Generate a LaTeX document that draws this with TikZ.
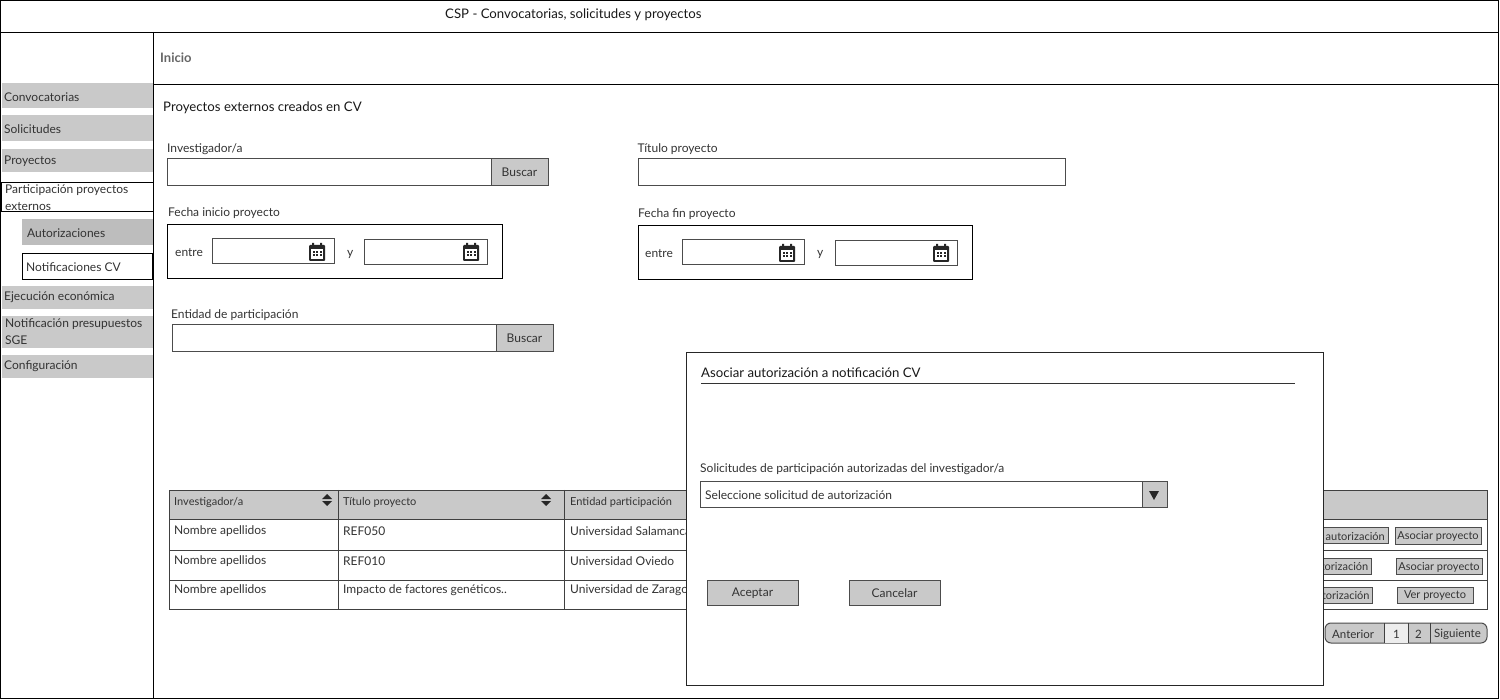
\documentclass[tikz,border=0pt]{standalone}
\usepackage{fontspec}
\setmainfont{Lato}
\tikzset{
  texto/.style={anchor=west,inner sep=0pt,yshift=-0.8pt,text=black!80,font=\fontsize{12}{17}\selectfont},
  titulo/.style={texto,text=black!90,font=\fontsize{13.2}{17}\selectfont},
  cabeza/.style={texto,font=\fontsize{11}{14}\selectfont},
  marco/.style={draw=black,line width=0.8pt},
  campo/.style={draw=black!70,fill=white,line width=1pt},
  boton/.style={draw=black!70,fill=black!21,line width=1pt,text=black!80,font=\fontsize{12}{14}\selectfont},
  botonfila/.style={boton,font=\fontsize{11}{14}\selectfont},
  menuitem/.style={fill=black!21},
  celda/.style={draw=black!75,line width=0.9pt},
  calendario/.pic={
    \fill[black!85,rounded corners=1pt] (-8,-7) rectangle (8,9);
    \fill[white] (-6,-3) rectangle (6,7);
    \fill[black!85] (-5,-9) rectangle (-3,-5) (3,-9) rectangle (5,-5);
    \foreach \i in {-3.5,0,3.5} {
      \foreach \j in {0,3.5} {
        \fill[black!85] (\i-1,\j-1) rectangle (\i+1,\j+1);
      }
    }
  },
  orden/.pic={
    \fill[black!85] (-5,-1) -- (0,-6) -- (5,-1) -- cycle;
    \fill[black!85] (-5,1) -- (0,6) -- (5,1) -- cycle;
  }
}

\begin{document}
\begin{tikzpicture}[x=1pt,y=-1pt]
  \useasboundingbox (0,0) rectangle (1500,700);
  \fill[white] (0,0) rectangle (1500,700);

  % marco general
  \draw[marco] (0.5,0.5) rectangle (1498,32);
  \draw[marco] (0.5,32) -- (0.5,698.5) -- (1498,698.5) -- (1498,32);
  \draw[marco] (153.5,32) -- (153.5,698.5);
  \draw[marco] (153.5,84) -- (1498,84);
  \node[titulo] (cabecera) at (445,14) {CSP - Convocatorias, solicitudes y proyectos};
  \node[texto,text=black!60,font=\bfseries\fontsize{13}{17}\selectfont] (inicio) at (160,57) {Inicio};

  % menu lateral
  \fill[menuitem] (2,83) rectangle (153,108);
  \fill[menuitem] (2,115) rectangle (153,141);
  \fill[menuitem] (2,149) rectangle (153,172);
  \draw[marco,fill=white] (1,182.5) rectangle (153,211);
  \fill[black!26] (22,219) rectangle (153,245);
  \draw[marco,fill=white] (22.5,253.5) rectangle (152.5,279);
  \fill[menuitem] (2,286) rectangle (153,309);
  \fill[menuitem] (2,316) rectangle (153,348);
  \fill[menuitem] (2,355) rectangle (153,378);
  \node[texto] (convocatorias) at (4,96) {Convocatorias};
  \node[texto] (solicitudes) at (4,128) {Solicitudes};
  \node[texto] (proyectos) at (4,160) {Proyectos};
  \node[texto,align=left] (participacion) at (5,196.5) {Participación proyectos\\externos};
  \node[texto] (autorizaciones) at (27,232) {Autorizaciones};
  \node[texto] (notificaciones) at (26,266) {Notificaciones CV};
  \node[texto] (ejecucion) at (4,296.5) {Ejecución económica};
  \node[texto,align=left] (presupuestos) at (5,330.5) {Notificación presupuestos\\SGE};
  \node[texto] (configuracion) at (4,365.5) {Configuración};

  % filtros
  \node[titulo] (filtros) at (163,107) {Proyectos externos creados en CV};
  \node[texto] (labelinv) at (167,148) {Investigador/a};
  \draw[campo] (167,159) rectangle (491,186);
  \draw[boton] (491,159) rectangle (548,186) node (buscarinv) [midway] {Buscar};
  \node[texto] (labeltit) at (637.5,148) {Título proyecto};
  \draw[campo] (638,159) rectangle (1065,186);

  \node[texto] (labelini) at (168,212) {Fecha inicio proyecto};
  \draw[marco] (167,224) rectangle (502,278);
  \node[texto] (entreini) at (175,252) {entre};
  \draw[campo] (212,239) rectangle (334,264);
  \node[texto] (yini) at (347,254) {y};
  \draw[campo] (364,240) rectangle (487,265);
  \pic at (317,252) {calendario};
  \pic at (471,252) {calendario};

  \node[texto] (labelfin) at (638,213) {Fecha fin proyecto};
  \draw[marco] (638,225) rectangle (972,279);
  \node[texto] (entrefin) at (645,253) {entre};
  \draw[campo] (682,240) rectangle (804,265);
  \node[texto] (yfin) at (817,254) {y};
  \draw[campo] (835,241) rectangle (957,266);
  \pic at (787,253) {calendario};
  \pic at (941,253) {calendario};

  \node[texto] (labelent) at (171,314) {Entidad de participación};
  \draw[campo] (172,325) rectangle (496,352);
  \draw[boton] (496,325) rectangle (553,352) node (buscarent) [midway] {Buscar};

  % tabla
  \draw[celda,fill=black!21] (169,490) rectangle (1487,519);
  \draw[celda] (169,519) rectangle (1487,609);
  \draw[celda] (169,550) -- (1487,550);
  \draw[celda] (169,580) -- (1487,580);
  \draw[celda] (338.5,490) -- (338.5,609);
  \draw[celda] (564,490) -- (564,609);
  \node[cabeza] (colinv) at (174,501.5) {Investigador/a};
  \node[cabeza] (coltit) at (343,501.5) {Título proyecto};
  \node[cabeza] (colent) at (570,501.5) {Entidad participación};
  \pic at (327,500) {orden};
  \pic at (546,500) {orden};
  \node[texto] (inva) at (174,530) {Nombre apellidos};
  \node[texto] (invb) at (174,560) {Nombre apellidos};
  \node[texto] (invc) at (174,589) {Nombre apellidos};
  \node[texto] (tita) at (343,530) {REF050};
  \node[texto] (titb) at (343,560) {REF010};
  \node[texto] (titc) at (343,589) {Impacto de factores genéticos..};
  \node[texto] (enta) at (570,530) {Universidad Salamanca};
  \node[texto] (entb) at (570,560) {Universidad Oviedo};
  \node[texto] (entc) at (570,589) {Universidad de Zaragoza};

  \draw[botonfila] (1300,527.5) rectangle (1388.5,543.5) node (autoa) [midway,xshift=11pt,yshift=-1pt] {autorización};
  \draw[botonfila] (1290,558) rectangle (1371.5,574) node (autob) [midway,xshift=8pt,yshift=-1pt] {autorización};
  \draw[botonfila] (1290,587) rectangle (1372,603) node (autoc) [midway,xshift=9pt,yshift=-1pt] {autorización};
  \draw[botonfila] (1395,527.5) rectangle (1481,544) node (asociara) [midway,yshift=-1pt] {Asociar proyecto};
  \draw[botonfila] (1396,558) rectangle (1482,574) node (asociarb) [midway,yshift=-1pt] {Asociar proyecto};
  \draw[botonfila] (1397,587) rectangle (1473,603) node (verproy) [midway,yshift=-1pt] {Ver proyecto};

  % paginacion
  \draw[boton,rounded corners=6pt] (1325,623) rectangle (1487,643);
  \fill[black!7] (1384,623.5) rectangle (1408,642.5);
  \draw[celda,line width=0.8pt] (1384,623) -- (1384,643) (1408,623) -- (1408,643) (1430,623) -- (1430,643);
  \node[texto,font=\fontsize{11.5}{14}\selectfont] (anterior) at (1332,634) {Anterior};
  \node[texto,font=\fontsize{11.5}{14}\selectfont] (pagina) at (1393,634) {1};
  \node[texto,font=\fontsize{11.5}{14}\selectfont] (paginb) at (1415,634) {2};
  \node[texto,font=\fontsize{11.5}{14}\selectfont] (siguiente) at (1434,634) {Siguiente};

  % ventana modal
  \draw[marco,draw=black!85,fill=white] (686,352) rectangle (1323.5,685);
  \node[titulo] (modal) at (701,372) {Asociar autorización a notificación CV};
  \draw[draw=black!80,line width=0.9pt] (701,383) -- (1295,383);
  \node[texto] (labelsol) at (700,468) {Solicitudes de participación autorizadas del investigador/a};
  \draw[campo] (700,482) rectangle (1142,507);
  \node[texto] (combo) at (705,494) {Seleccione solicitud de autorización};
  \draw[boton] (1142,482) rectangle (1167,507);
  \fill[black!85] (1149,491) -- (1159,491) -- (1154,500) -- cycle;
  \draw[boton] (707,580) rectangle (798,605) node (aceptar) [midway,yshift=-0.8pt] {Aceptar};
  \draw[boton] (849,580) rectangle (940,605) node (cancelar) [midway,yshift=-0.8pt] {Cancelar};
\end{tikzpicture}
\end{document}
